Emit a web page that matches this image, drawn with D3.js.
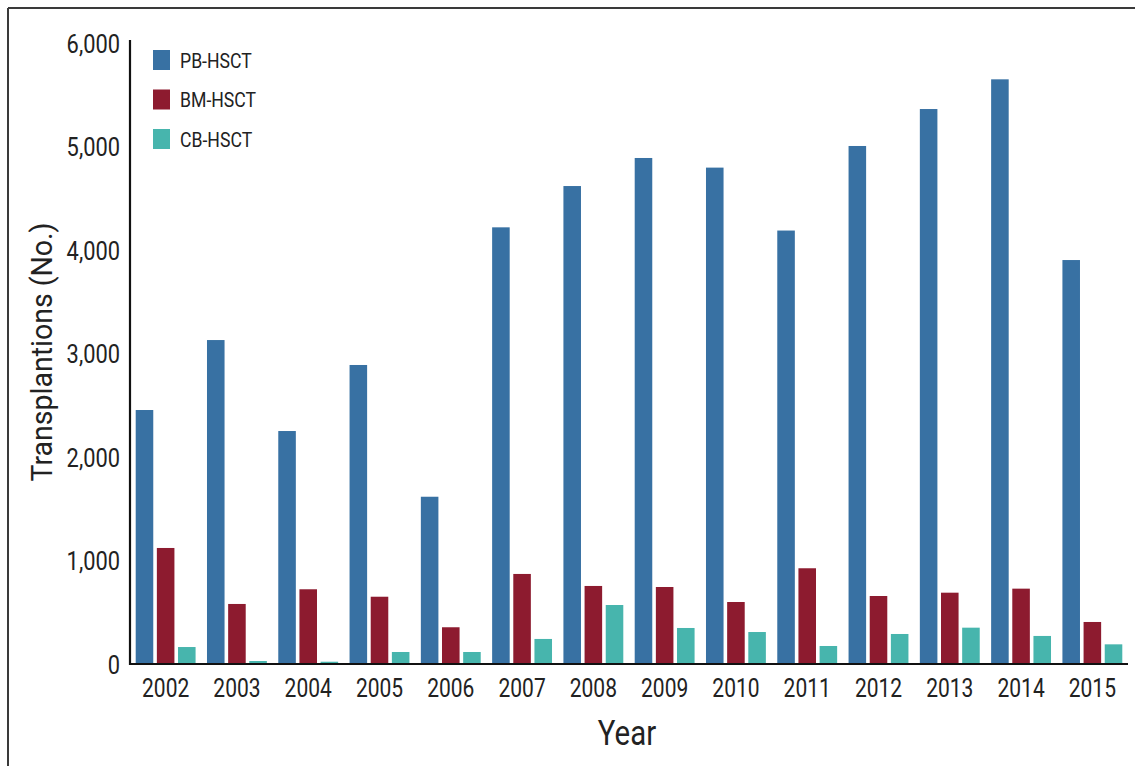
<!DOCTYPE html>
<html>
<head>
<meta charset="utf-8">
<script src="https://cdn.jsdelivr.net/npm/d3@7"></script>
<style>
html,body{margin:0;padding:0;background:#fff;}
svg{display:block;font-family:Roboto, "Noto Sans", sans-serif;}
</style>
</head>
<body>
<svg id="chart" width="1135" height="766"></svg>
<script>
const years = ["2002","2003","2004","2005","2006","2007","2008","2009","2010","2011","2012","2013","2014","2015"];
const seriesNames = ["PB-HSCT","BM-HSCT","CB-HSCT"];
const pbValues = [2454,3130,2251,2889,1616,4219,4618,4889,4796,4188,5005,5362,5649,3903];
const bmValues = [1121,580,722,650,355,870,754,744,599,925,657,689,728,406];
const cbValues = [164,29,22,116,116,242,570,348,309,174,290,351,271,190];
const yTicks = [0,1000,2000,3000,4000,5000,6000];
const colors = ["#3871a3","#8d1b2f","#47b5ad"];

(function(){
const svg = d3.select("#chart");
const mLeft = 130, mRight = 1128, mTop = 43, mBottom = 664;

const x0 = d3.scaleBand().domain(years).range([mLeft, mRight]).paddingInner(0.16).paddingOuter(0.08);
const x1 = d3.scaleBand().domain(seriesNames).range([0, x0.bandwidth()]).paddingInner(0.17).paddingOuter(0);
const y = d3.scaleLinear().domain([0, 6000]).range([mBottom, mTop]);
const color = d3.scaleOrdinal().domain(seriesNames).range(colors);

const valuesBySeries = [pbValues, bmValues, cbValues];
const data = years.map((yr, i) => ({year: yr, vals: seriesNames.map((s, j) => ({key: s, value: valuesBySeries[j][i]}))}));

// frame
svg.append("line").attr("x1", 8).attr("x2", 1135).attr("y1", 8).attr("y2", 8).attr("stroke", "#3a3a3a").attr("stroke-width", 2);
svg.append("line").attr("x1", 8).attr("x2", 8).attr("y1", 8).attr("y2", 766).attr("stroke", "#3a3a3a").attr("stroke-width", 2);

// bars
const g = svg.append("g");
g.selectAll("g.grp").data(data).join("g").attr("class", "grp")
  .attr("transform", d => `translate(${x0(d.year)},0)`)
  .selectAll("rect").data(d => d.vals).join("rect")
  .attr("x", d => x1(d.key))
  .attr("width", x1.bandwidth())
  .attr("y", d => y(d.value))
  .attr("height", d => y(0) - y(d.value))
  .attr("fill", d => color(d.key));

const condense = (sel, f) => sel.each(function(){ const len = this.getComputedTextLength(); d3.select(this).attr("textLength", len * f).attr("lengthAdjust", "spacingAndGlyphs"); });

const xAxis = svg.append("g").attr("transform", `translate(0,${mBottom})`)
  .call(d3.axisBottom(x0).tickSize(0).tickSizeOuter(0).tickPadding(15));
xAxis.select(".domain").attr("stroke", "#111").attr("stroke-width", 2.2).attr("d", `M${mLeft},0H${mRight}`);
xAxis.selectAll("text").attr("font-size", 25).attr("fill", "#222").attr("font-family", "Roboto").attr("dy", "0.71em");
xAxis.selectAll("text").call(condense, 0.84);

const yAxis = svg.append("g").attr("transform", `translate(${mLeft},0)`)
  .call(d3.axisLeft(y).tickValues(yTicks).tickFormat(d3.format(",")).tickSize(0).tickSizeOuter(0).tickPadding(10));
yAxis.select(".domain").attr("stroke", "#111").attr("stroke-width", 2.2).attr("d", `M0,${mTop - 3}V${mBottom + 1}`);
yAxis.selectAll("text").attr("font-size", 26).attr("fill", "#222").attr("font-family", "Roboto").attr("dy", "0.36em");
yAxis.selectAll("text").call(condense, 0.84);

svg.append("text").attr("x", 627).attr("y", 745).attr("text-anchor", "middle")
  .attr("font-size", 35).attr("fill", "#222").text("Year").call(condense, 0.84);
svg.append("text").attr("transform", "translate(52,352) rotate(-90)").attr("text-anchor", "middle")
  .attr("font-size", 30).attr("fill", "#222").text("Transplantions (No.)").call(condense, 0.95);

const leg = svg.append("g").attr("transform", "translate(153,50)");
const li = leg.selectAll("g").data(seriesNames).join("g").attr("transform", (d, i) => `translate(0,${i * 39.5})`);
li.append("rect").attr("width", 17).attr("height", 20).attr("fill", d => color(d));
li.append("text").attr("x", 27).attr("y", 10).attr("dy", "0.36em").attr("font-size", 21).attr("fill", "#222").text(d => d).call(condense, 0.84);
})();
</script>
</body>
</html>
